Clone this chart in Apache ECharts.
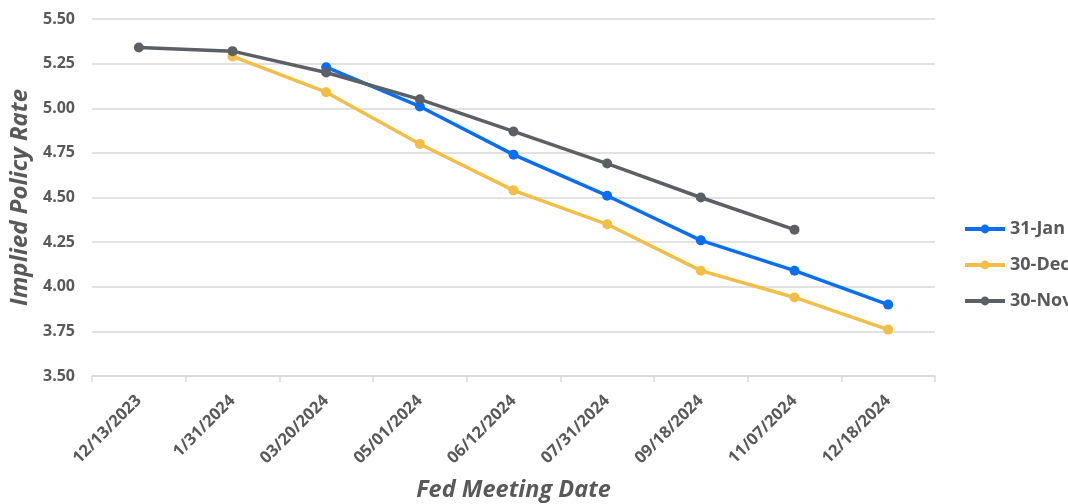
<!DOCTYPE html>
<html>
<head>
<meta charset="utf-8">
<script src="https://cdn.jsdelivr.net/npm/echarts@6/dist/echarts.min.js"></script>
<style>
  html, body { margin: 0; padding: 0; background: #fff; }
  #chart { width: 1068px; height: 504px; }
</style>
</head>
<body>
<div id="chart"></div>
<script>
// Fed meeting dates on the x axis
const meetingDates = ['12/13/2023', '1/31/2024', '03/20/2024', '05/01/2024', '06/12/2024',
  '07/31/2024', '09/18/2024', '11/07/2024', '12/18/2024'];

// Implied policy rate per meeting, by pricing date
const jan31 = [null, null, 5.23, 5.01, 4.74, 4.51, 4.26, 4.09, 3.90];
const dec30 = [null, 5.29, 5.09, 4.80, 4.54, 4.35, 4.09, 3.94, 3.76];
const nov30 = [5.34, 5.32, 5.20, 5.05, 4.87, 4.69, 4.50, 4.32, null];

const seriesNames = ['31-Jan', '30-Dec', '30-Nov'];
const seriesColors = ['#0A6EF0', '#F2BE45', '#5B6066'];

const FONT = '"Open Sans", Lato, sans-serif';
const TEXT = '#595959';

function lineSeries(name, data, color, z) {
  return {
    name: name,
    type: 'line',
    data: data,
    z: z,
    symbol: 'circle',
    symbolSize: 10,
    connectNulls: false,
    itemStyle: { color: color },
    lineStyle: { color: color, width: 3.5 },
    emphasis: { disabled: true }
  };
}

const chart = echarts.init(document.getElementById('chart'), null, { renderer: 'canvas' });
chart.setOption({
  animation: false,
  grid: { left: 92, right: 133, top: 19, bottom: 128, containLabel: false, outerBoundsMode: 'none' },
  legend: {
    orient: 'vertical',
    left: 963,
    top: 219,
    padding: 0,
    itemGap: 16,
    itemWidth: 40,
    itemHeight: 11,
    data: seriesNames,
    lineStyle: { width: 4 },
    textStyle: { fontFamily: FONT, fontSize: 18, lineHeight: 20, fontWeight: 'bold', color: TEXT }
  },
  xAxis: {
    type: 'category',
    data: meetingDates,
    boundaryGap: true,
    name: 'Fed Meeting Date',
    nameLocation: 'middle',
    nameGap: 103,
    nameTextStyle: { fontFamily: FONT, fontSize: 23.5, fontWeight: 'bold', fontStyle: 'italic', color: TEXT },
    axisLine: { lineStyle: { color: '#D9D9D9', width: 1.5 } },
    axisTick: { show: true, length: 6, lineStyle: { color: '#D9D9D9', width: 1.5 } },
    axisLabel: { rotate: 45, margin: 22, fontFamily: FONT, fontSize: 16.5, fontWeight: 'bold', color: TEXT, interval: 0 },
    splitLine: { show: false }
  },
  yAxis: {
    type: 'value',
    min: 3.5,
    max: 5.5,
    interval: 0.25,
    name: 'Implied Policy Rate',
    nameLocation: 'middle',
    nameGap: 51,
    nameTextStyle: { fontFamily: FONT, fontSize: 24, fontWeight: 'bold', fontStyle: 'italic', color: TEXT },
    axisLine: { show: false },
    axisTick: { show: false },
    axisLabel: { margin: 17, fontFamily: FONT, fontSize: 16, fontWeight: 'bold', color: TEXT,
      formatter: v => v.toFixed(2) },
    splitLine: { lineStyle: { color: '#D9D9D9', width: 1.5 } }
  },
  series: [
    lineSeries(seriesNames[0], jan31, seriesColors[0], 2),
    lineSeries(seriesNames[1], dec30, seriesColors[1], 1),
    lineSeries(seriesNames[2], nov30, seriesColors[2], 3)
  ]
});
</script>
</body>
</html>
